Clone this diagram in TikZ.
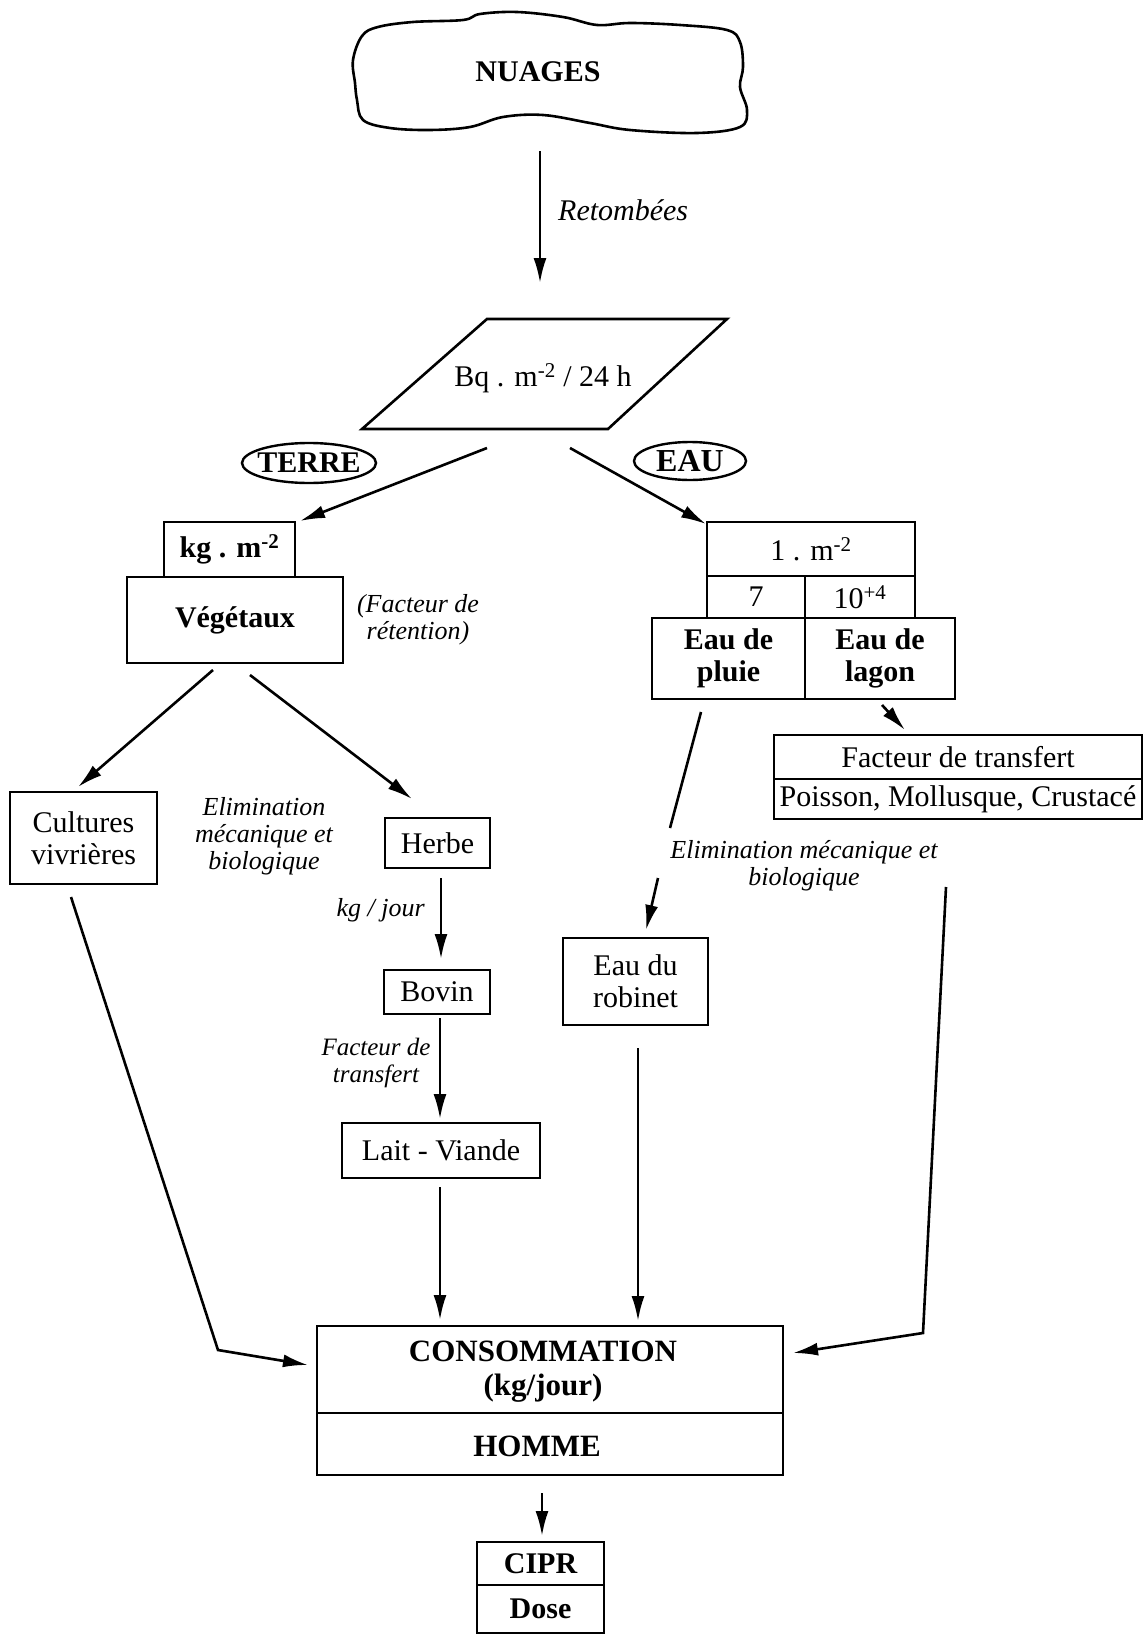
\documentclass[tikz,border=0pt]{standalone}
\usepackage{fontspec}
\setmainfont{Liberation Serif}
\usetikzlibrary{arrows.meta,shapes.geometric}
\begin{document}
\begin{tikzpicture}[x=1pt,y=-1pt,
  box/.style={draw,line width=2.6pt,inner sep=0pt,align=center,font=\fontsize{30}{32}\selectfont},
  bbox/.style={box,font=\fontsize{30}{32}\selectfont\bfseries},
  ann/.style={align=center,inner sep=0pt,font=\fontsize{26}{27}\selectfont\itshape},
  txt/.style={align=center,inner sep=0pt,font=\fontsize{30}{32}\selectfont},
  btxt/.style={align=center,inner sep=0pt,font=\fontsize{31}{34}\selectfont\bfseries},
  arr/.style={line width=2.6pt,-{Latex[length=25pt,width=13pt]}},
  ln/.style={line width=2.6pt}]
\useasboundingbox (0,0) rectangle (1145,1635);

% cloud
\draw[line width=2.6pt] plot[smooth cycle,tension=0.6] coordinates {
 (378,27) (413,22) (463,20) (480,14) (517,12) (563,17) (597,25) (630,23)
 (680,25) (727,30) (740,42) (743,67) (740,87) (747,110) (740,127) (697,133)
 (630,130) (590,123) (543,115) (503,117) (470,127) (430,130) (390,128)
 (363,120) (357,100) (355,83) (353,60) (362,36)};
\node[txt,font=\fontsize{30}{32}\selectfont\bfseries] (nuages) at (538,72) {NUAGES};

% parallelogram
\draw[ln] (487,319) -- (727,319) -- (608,429) -- (362,429) -- cycle;
\node[txt] (para) at (543,378) {Bq . m\textsuperscript{-2} / 24 h};

\coordinate (a1s) at (540,151);
\coordinate (a1e) at (540,283);
\draw[arr] (a1s) -- (a1e);
\node[ann,anchor=west,font=\fontsize{30}{30}\selectfont\itshape] (retomb) at (558,210) {Retombées};

% ovals
\node[btxt,font=\fontsize{30}{32}\selectfont\bfseries] (terre) at (309,463) {TERRE};
\draw[line width=2.4pt] (terre.center) ellipse [x radius=67pt, y radius=20pt];
\node[btxt,font=\fontsize{32}{34}\selectfont\bfseries] (eau) at (690,461) {EAU};
\draw[line width=2.4pt] (eau.center) ellipse [x radius=56pt, y radius=19pt];

% left branch
\node[bbox,minimum width=131pt,minimum height=55pt] (kgm) at (229.5,549.5) {kg . m\textsuperscript{-2}};
\node[bbox,minimum width=216pt,minimum height=86pt] (veg) at (235,620) {Végétaux};
\node[ann] (retention) at (418,620) {(Facteur de\\rétention)};

\coordinate (a2s) at (487,448);
\coordinate (a2e) at (300,521);
\draw[arr] (a2s) -- (a2e);
\coordinate (a3s) at (570,448);
\coordinate (a3e) at (706,524);
\draw[arr] (a3s) -- (a3e);

% right top table
\node[box,minimum width=208pt,minimum height=54pt] (lm) at (811,549) {1 . m\textsuperscript{-2}};
\node[box,minimum width=98pt,minimum height=42pt] (sept) at (756,597) {7};
\node[box,minimum width=110pt,minimum height=42pt] (dixq) at (860,597) {10\textsuperscript{+4}};
\node[bbox,minimum width=153pt,minimum height=81pt] (pluie) at (728.5,658.5) {Eau de\\pluie};
\node[bbox,minimum width=150pt,minimum height=81pt] (lagon) at (880,658.5) {Eau de\\lagon};

\node[box,minimum width=368pt,minimum height=44pt] (ftrans) at (958,757) {Facteur de transfert};
\node[box,minimum width=368pt,minimum height=40pt] (poisson) at (958,799) {Poisson, Mollusque, Crustacé};
\coordinate (a4s) at (882,705);
\coordinate (a4e) at (905,730);
\draw[arr] (a4s) -- (a4e);

% vegetaux children
\node[box,minimum width=147pt,minimum height=92pt] (cult) at (83.5,838) {Cultures\\vivrières};
\node[box,minimum width=105pt,minimum height=50pt] (herbe) at (437.5,843) {Herbe};
\node[box,minimum width=106pt,minimum height=44pt] (bovin) at (437,992) {Bovin};
\node[box,minimum width=198pt,minimum height=55pt] (lait) at (441,1150.5) {Lait - Viande};
\node[ann] (elim1) at (264,836) {Elimination\\mécanique et\\biologique};

\coordinate (a5s) at (213,670);
\coordinate (a5e) at (78,787);
\draw[arr] (a5s) -- (a5e);
\coordinate (a6s) at (250,675);
\coordinate (a6e) at (412,799);
\draw[arr] (a6s) -- (a6e);

\coordinate (a7s) at (441,878);
\coordinate (a7e) at (441,959);
\draw[arr] (a7s) -- (a7e);
\node[ann,anchor=east] (kgj) at (425,910) {kg / jour};
\coordinate (a8s) at (440,1018);
\coordinate (a8e) at (440,1119);
\draw[arr] (a8s) -- (a8e);
\node[ann,font=\fontsize{25}{27}\selectfont\itshape] (ft2) at (376,1063) {Facteur de\\transfert};
\coordinate (a9s) at (440,1187);
\coordinate (a9e) at (440,1320);
\draw[arr] (a9s) -- (a9e);

% water
\node[box,minimum width=145pt,minimum height=87pt] (robinet) at (635.5,981.5) {Eau du\\robinet};
\coordinate (b1s) at (701,712);
\coordinate (b1m) at (670,828);
\draw[ln] (b1s) -- (b1m);
\coordinate (b2s) at (658,878);
\coordinate (b2e) at (646,930);
\draw[arr] (b2s) -- (b2e);
\node[ann] (elim2) at (804,866) {Elimination mécanique et\\biologique};
\coordinate (b3s) at (638,1048);
\coordinate (b3e) at (638,1321);
\draw[arr] (b3s) -- (b3e);

% consommation
\node[box,minimum width=466pt,minimum height=87pt] (cons) at (550,1369.5) {};
\node[box,minimum width=466pt,minimum height=62pt] (homme) at (550,1444) {};
\node[btxt] (constxt) at (543,1372) {CONSOMMATION\\(kg/jour)};
\node[btxt] (hommetxt) at (537,1446) {HOMME};

\coordinate (c1s) at (71,897);
\coordinate (c1m) at (218,1350);
\coordinate (c1e) at (308,1365);
\draw[arr] (c1s) -- (c1m) -- (c1e);
\coordinate (c2s) at (946,887);
\coordinate (c2m) at (923,1333);
\coordinate (c2e) at (793,1353);
\draw[arr] (c2s) -- (c2m) -- (c2e);

\node[bbox,minimum width=127pt,minimum height=43pt] (cipr) at (540.5,1563.5) {CIPR};
\node[bbox,minimum width=127pt,minimum height=48pt] (dose) at (540.5,1609) {Dose};
\coordinate (d1s) at (542,1493);
\coordinate (d1e) at (542,1536);
\draw[arr] (d1s) -- (d1e);
\end{tikzpicture}
\end{document}
